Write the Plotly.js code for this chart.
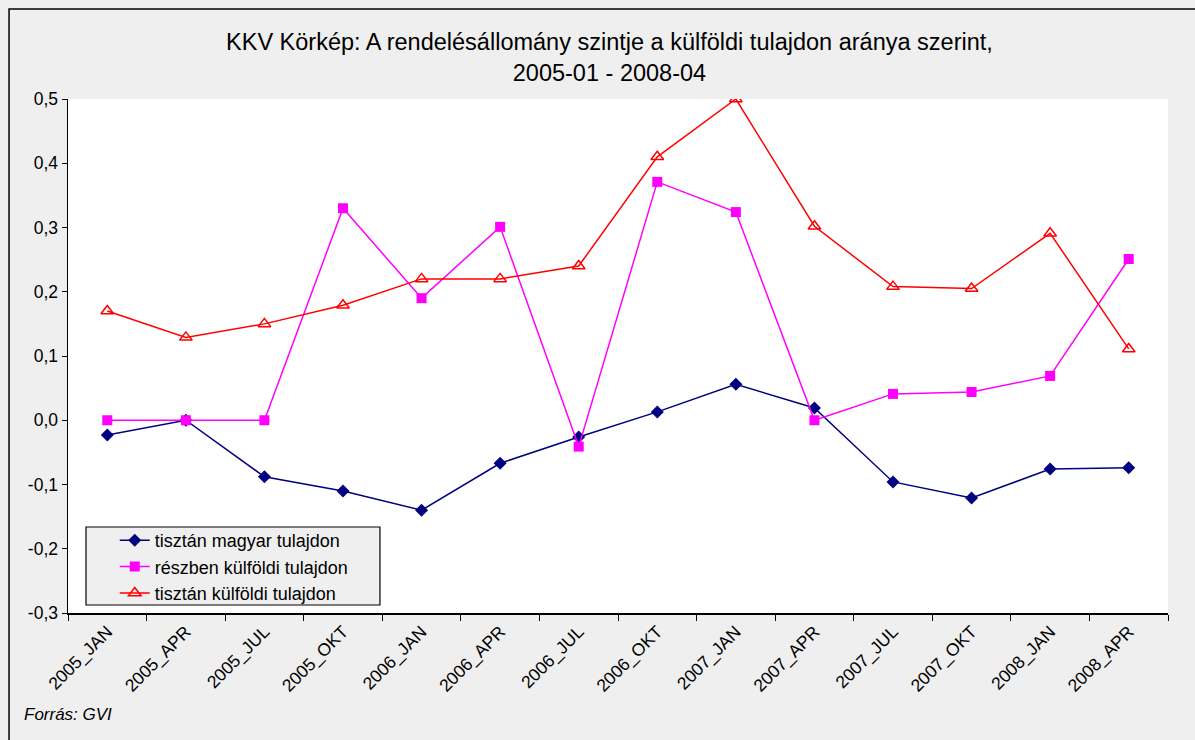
<!DOCTYPE html>
<html>
<head>
<meta charset="utf-8">
<script src="https://cdn.plot.ly/plotly-3.0.1.min.js"></script>
<style>html,body{margin:0;padding:0;background:#efefef;}#chart{width:1195px;height:740px;}</style>
</head>
<body>
<div id="chart"></div>
<script>
const categories = ["2005_JAN","2005_APR","2005_JUL","2005_OKT","2006_JAN","2006_APR","2006_JUL","2006_OKT","2007_JAN","2007_APR","2007_JUL","2007_OKT","2008_JAN","2008_APR"];
const magyar = [-0.023, 0.0, -0.088, -0.110, -0.140, -0.067, -0.026, 0.013, 0.056, 0.019, -0.096, -0.121, -0.076, -0.074];
const reszben = [0.0, 0.0, 0.0, 0.330, 0.190, 0.301, -0.041, 0.371, 0.324, 0.0, 0.041, 0.044, 0.069, 0.251];
const kulfoldi = [0.170, 0.129, 0.150, 0.179, 0.220, 0.220, 0.240, 0.410, 0.500, 0.302, 0.208, 0.205, 0.291, 0.111];
const seriesNames = ["tisztán magyar tulajdon", "részben külföldi tulajdon", "tisztán külföldi tulajdon"];
const yTickVals = [-0.3, -0.2, -0.1, 0.0, 0.1, 0.2, 0.3, 0.4, 0.5];
const yTickText = ["-0,3", "-0,2", "-0,1", "0,0", "0,1", "0,2", "0,3", "0,4", "0,5"];

const font = "Liberation Sans, Arial, sans-serif";
const traces = [
  {x: categories, y: magyar, name: seriesNames[0], type: "scatter", mode: "lines+markers",
   line: {color: "#000080", width: 1.5}, marker: {symbol: "diamond", size: 10, color: "#000080"}},
  {x: categories, y: reszben, name: seriesNames[1], type: "scatter", mode: "lines+markers",
   line: {color: "#ff00ff", width: 1.5}, marker: {symbol: "square", size: 10, color: "#ff00ff"}},
  {x: categories, y: kulfoldi, name: seriesNames[2], type: "scatter", mode: "lines+markers",
   line: {color: "#ff0000", width: 1.5}, marker: {symbol: "triangle-up-open", size: 11, color: "#ff0000", line: {width: 1.5, color: "#ff0000"}}}
];

const layout = {
  width: 1195, height: 740,
  paper_bgcolor: "#efefef", plot_bgcolor: "#ffffff",
  margin: {l: 68, r: 27, t: 99, b: 127},
  font: {family: font, size: 17, color: "#000"},
  title: {text: "KKV Körkép: A rendelésállomány szintje a külföldi tulajdon aránya szerint,<br>2005-01 - 2008-04",
          font: {family: font, size: 23.5, color: "#000"}, x: 0.51, xanchor: "center", y: 0.932, yanchor: "top"},
  xaxis: {type: "category", tickson: "boundaries", ticks: "outside", ticklen: 6, tickcolor: "#000",
          showline: true, linecolor: "#000", linewidth: 1.5, showgrid: false, zeroline: false,
          tickangle: -45, tickfont: {family: font, size: 17.5, color: "#000"}, range: [-0.5, 13.5]},
  yaxis: {range: [-0.3, 0.5], tickmode: "array", tickvals: yTickVals, ticktext: yTickText,
          ticks: "outside", ticklen: 5, tickcolor: "#000",
          showline: true, linecolor: "#000", linewidth: 1.5, showgrid: false, zeroline: false,
          tickfont: {family: font, size: 17.5, color: "#000"}},
  showlegend: true,
  legend: {x: 0.0425, y: 0.177, xanchor: "left", yanchor: "top", bgcolor: "rgba(0,0,0,0)",
           borderwidth: 0, font: {family: font, size: 18, color: "#000"},
           tracegroupgap: 0, itemwidth: 30},
  shapes: [
    {type: "rect", xref: "paper", yref: "paper", x0: -0.0536, x1: 1.04, y0: -0.25, y1: 1.175,
     line: {color: "#000", width: 1.5}, fillcolor: "rgba(0,0,0,0)", layer: "below"},
    {type: "rect", xref: "paper", yref: "paper", x0: 0.01636, x1: 0.2836, y0: 0.01556, y1: 0.1673,
     line: {color: "#000", width: 1.2}, fillcolor: "#efefef", layer: "above"}
  ],
  annotations: [{text: "<i>Forrás: GVI</i>", xref: "paper", yref: "paper", x: -0.0418, y: -0.1965,
                 xanchor: "left", yanchor: "middle", showarrow: false, font: {family: font, size: 17, color: "#000"}}]
};
Plotly.newPlot("chart", traces, layout, {displayModeBar: false, staticPlot: true});
</script>
</body>
</html>
